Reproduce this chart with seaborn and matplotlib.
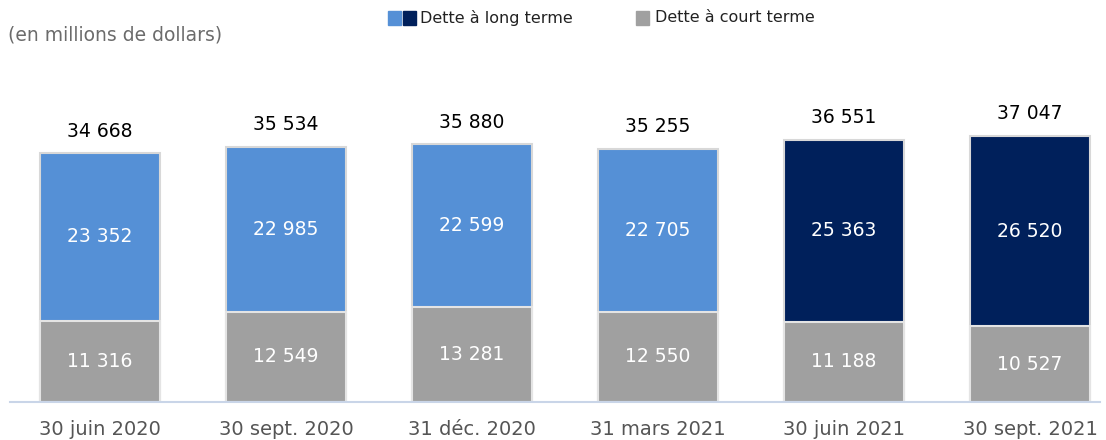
import numpy as np
import pandas as pd
import matplotlib
matplotlib.use('Agg')
import matplotlib.pyplot as plt
import seaborn as sns
from matplotlib.patches import Rectangle

# data
dates = ['30 juin 2020', '30 sept. 2020', '31 déc. 2020', '31 mars 2021', '30 juin 2021', '30 sept. 2021']
long_term = [23352, 22985, 22599, 22705, 25363, 26520]
short_term = [11316, 12549, 13281, 12550, 11188, 10527]
long_colors = ['#5590d6', '#5590d6', '#5590d6', '#5590d6', '#00205b', '#00205b']
short_color = '#a0a0a0'

df = pd.DataFrame({'date': dates, 'long': long_term, 'short': short_term})
df['total'] = df['long'] + df['short']


def fmt(v):
    return f'{v:,}'.replace(',', ' ')


sns.set_theme(style='white')
plt.rcParams['font.family'] = ['DejaVu Sans']

fig = plt.figure(figsize=(11.06, 4.4), dpi=100)
ax = fig.add_axes([10 / 1106, 38 / 440, 1090 / 1106, 342 / 440])

# long-term segment drawn as the full stack, short-term on top of it
sns.barplot(data=df, x='date', y='total', hue='date', palette=long_colors, legend=False,
            saturation=1, width=0.645, edgecolor='#d8d8d8', linewidth=1.5, ax=ax)
sns.barplot(data=df, x='date', y='short', color=short_color, saturation=1,
            width=0.645, edgecolor='#e4e4e4', linewidth=1.5, ax=ax)

for i, row in df.iterrows():
    ax.text(i, row['short'] / 2, fmt(row['short']), ha='center', va='center',
            color='white', fontsize=13.5)
    ax.text(i, row['short'] + row['long'] / 2, fmt(row['long']), ha='center', va='center',
            color='white', fontsize=13.5)
    ax.annotate(fmt(row['total']), (i, row['total']), xytext=(0, 9), textcoords='offset points',
                ha='center', va='bottom', color='black', fontsize=13.5)

ax.set_xlim(-0.484, 5.376)
ax.set_ylim(0, 47630)
ax.set_xlabel('')
ax.set_ylabel('')
ax.set_yticks([])
ax.tick_params(axis='x', length=0, pad=13, labelsize=14, labelcolor='#555555')
for s in ['top', 'right', 'left']:
    ax.spines[s].set_visible(False)
ax.spines['bottom'].set_color('#c9d5e8')
ax.spines['bottom'].set_linewidth(1.5)

# subtitle
fig.text(8 / 1106, 1 - 35 / 440, '(en millions de dollars)', ha='left', va='center',
         color='#6b6b6b', fontsize=13.5)

# legend drawn by hand (two swatches for long term)
def swatch(x, color):
    fig.add_artist(Rectangle((x / 1106, 1 - 25 / 440), 13 / 1106, 14 / 440,
                             transform=fig.transFigure, color=color))

swatch(388, '#5590d6')
swatch(403, '#00205b')
fig.text(420 / 1106, 1 - 18 / 440, 'Dette à long terme', ha='left', va='center',
         color='#222222', fontsize=11.5)
swatch(636, short_color)
fig.text(655 / 1106, 1 - 18 / 440, 'Dette à court terme', ha='left', va='center',
         color='#222222', fontsize=11.5)

fig.savefig('out.png', dpi=100)
